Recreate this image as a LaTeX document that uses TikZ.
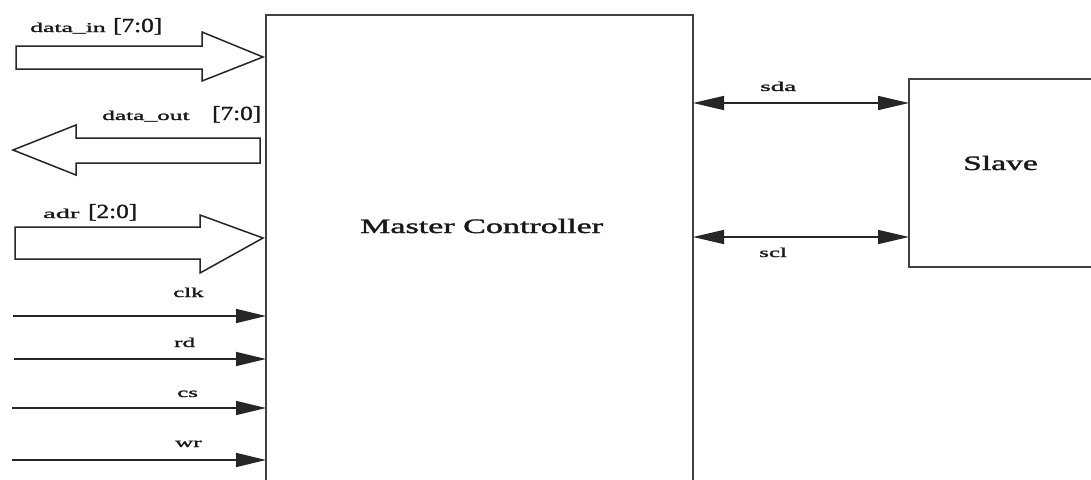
\documentclass[tikz,border=0pt]{standalone}
\usepackage{fontspec}
\setmainfont{Liberation Serif}[FakeBold=1.3]
\usepackage{graphicx}
\usetikzlibrary{arrows.meta}
\begin{document}
\begin{tikzpicture}[x=1pt,y=-1pt,
  blockbox/.style={draw=black!75, line width=1.7pt, inner sep=0pt, outer sep=0pt, anchor=north west},
  bus/.style={draw=black!85, line width=1.5pt, line join=miter},
  sig/.style={draw=black!85, line width=1.5pt, -{Triangle[length=30pt,width=14pt]}},
  bi/.style={draw=black!85, line width=1.5pt, {Triangle[length=31pt,width=14pt]}-{Triangle[length=31pt,width=14pt]}},
  lbl/.style={inner sep=0pt, anchor=base west, text=black!90, font=\fontsize{13.5}{13.5}\selectfont},
  brk/.style={inner sep=0pt, anchor=base west, text=black!90, font=\fontsize{20}{20}\selectfont},
  big/.style={inner sep=0pt, anchor=base west, text=black!90, font=\fontsize{20.5}{20.5}\selectfont},
]
\useasboundingbox (0,0) rectangle (1091,479);
\fill[white] (0,0) rectangle (1091,479);

% blocks
\node[blockbox, minimum width=427pt, minimum height=500pt] (master) at (266,15) {};
\node[blockbox, minimum width=200pt, minimum height=188pt] (slave) at (909,79) {};
\node[big] (mtxt) at (360,233) {\scalebox{1.66}[1]{Master Controller}};
\node[big] (stxt) at (963,170) {\scalebox{1.64}[1]{Slave}};

% bus arrows
\draw[bus] (16,46) -- (202,46) -- (202,32) -- (263,57) -- (202,81) -- (202,69) -- (16,69) -- cycle;
\draw[bus] (260,138) -- (76,138) -- (76,125) -- (13,150) -- (76,175) -- (76,163) -- (260,163) -- cycle;
\draw[bus] (15,227) -- (200,227) -- (200,215) -- (263,238) -- (200,273) -- (200,259) -- (15,259) -- cycle;

\node[lbl] (dinL) at (30,32) {\scalebox{1.9}[1]{data\_in}};
\node[brk] (dinB) at (113,32) {\scalebox{1.26}[1]{[7:0]}};
\node[lbl] (doutL) at (102,120) {\scalebox{1.88}[1]{data\_out}};
\node[brk] (doutB) at (212,120) {\scalebox{1.26}[1]{[7:0]}};
\node[lbl] (adrL) at (43,218) {\scalebox{2.1}[1]{adr}};
\node[brk] (adrB) at (88,218) {\scalebox{1.26}[1]{[2:0]}};

% single signals
\coordinate (clkS) at (13,316);
\coordinate (rdS) at (14,359);
\coordinate (csS) at (12,408);
\coordinate (wrS) at (12,460);
\draw[sig] (clkS) -- (clkS -| master.west);
\draw[sig] (rdS) -- (rdS -| master.west);
\draw[sig] (csS) -- (csS -| master.west);
\draw[sig] (wrS) -- (wrS -| master.west);
\node[lbl] (clkL) at (173,297) {\scalebox{1.85}[1]{clk}};
\node[lbl] (rdL) at (174,347) {\scalebox{1.85}[1]{rd}};
\node[lbl] (csL) at (177,397) {\scalebox{1.85}[1]{cs}};
\node[lbl] (wrL) at (175,447) {\scalebox{1.85}[1]{wr}};

% bidirectional
\coordinate (sdaY) at (0,103);
\coordinate (sclY) at (0,237);
\draw[bi] (sdaY -| master.east) -- (sdaY -| slave.west);
\draw[bi] (sclY -| master.east) -- (sclY -| slave.west);
\node[lbl] (sdaL) at (760,91) {\scalebox{2.0}[1]{sda}};
\node[lbl] (sclL) at (759,257) {\scalebox{1.85}[1]{scl}};
\end{tikzpicture}
\end{document}
